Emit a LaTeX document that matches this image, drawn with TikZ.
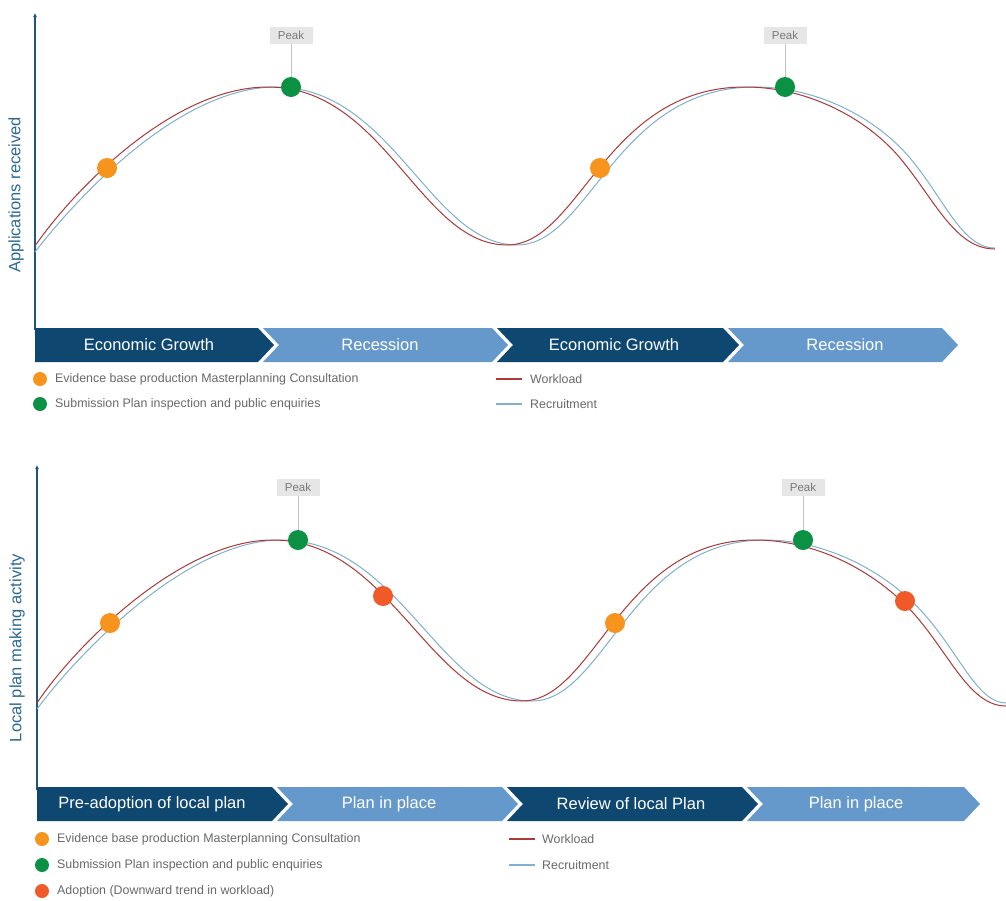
\documentclass[tikz,border=0pt]{standalone}
\usepackage{fontspec}
\setmainfont{Liberation Sans}
\usetikzlibrary{arrows.meta}
\definecolor{navy}{RGB}{14,71,112}
\definecolor{steel}{RGB}{102,153,203}
\definecolor{axisblue}{RGB}{30,88,118}
\definecolor{labelblue}{RGB}{44,106,150}
\definecolor{workred}{RGB}{172,56,56}
\definecolor{recblue}{RGB}{128,176,205}
\definecolor{dotorange}{RGB}{247,148,30}
\definecolor{dotgreen}{RGB}{10,145,68}
\definecolor{dotred}{RGB}{240,90,40}
\definecolor{peakgrey}{RGB}{230,230,230}
\definecolor{peaktext}{RGB}{120,120,120}
\definecolor{legendgrey}{RGB}{105,105,105}

\begin{document}
\begin{tikzpicture}[x=1pt,y=-1pt,
    axis/.style={draw=axisblue,line width=1.4pt,-{Latex[length=4pt,width=4pt]}},
    ylab/.style={rotate=90,text=labelblue,font=\fontsize{16.5}{18}\selectfont},
    workload/.style={draw=workred,line width=1pt},
    recruit/.style={draw=recblue,line width=1pt},
    keyline/.style={line width=1.4pt},
    dot/.style={circle,inner sep=0pt,minimum size=20pt},
    keydot/.style={circle,inner sep=0pt,minimum size=14pt},
    peakbox/.style={fill=peakgrey,text=peaktext,font=\fontsize{11.5}{12}\selectfont,minimum width=43pt,minimum height=17pt,inner sep=0pt},
    peakline/.style={draw=peakgrey!85!black,line width=0.8pt},
    phase/.style={text=white,font=\fontsize{16.5}{18}\selectfont},
    key/.style={anchor=west,inner sep=0pt,text=legendgrey,font=\fontsize{12.4}{14}\selectfont}]
    \fill[white] (0,0) rectangle (1006,900);
    \useasboundingbox (0,0) rectangle (1006,900);

    % upper chart
    \coordinate (ax1b) at (35,330);
    \coordinate (ax1t) at (35,13);
    \draw[axis] (ax1b) -- (ax1t);
    \node[ylab] (yl1) at (16,195) {Applications received};
    \draw[recruit] (35,252) .. controls (75,200) and (178,87) .. (276,87)
        .. controls (393,87) and (430,245) .. (517,245)
        .. controls (590,245) and (615,87) .. (755,87)
        .. controls (820,87) and (878,120) .. (910,158)
        .. controls (945,200) and (962,248) .. (995,248);
    \draw[workload] (35,246) .. controls (70,195) and (170,87) .. (268,87)
        .. controls (385,87) and (420,245) .. (507,245)
        .. controls (580,245) and (605,87) .. (745,87)
        .. controls (810,87) and (868,120) .. (900,158)
        .. controls (935,200) and (955,249) .. (995,249);
    \node[dot,fill=dotorange] (o1) at (107,168) {};
    \node[dot,fill=dotgreen] (g1) at (291,87) {};
    \node[dot,fill=dotorange] (o2) at (600,168) {};
    \node[dot,fill=dotgreen] (g2) at (785,87) {};
    \node[peakbox] (pk1) at (291,35) {Peak};
    \node[peakbox] (pk2) at (785,35) {Peak};
    \draw[peakline] (pk1) -- (g1);
    \draw[peakline] (pk2) -- (g2);

    \fill[navy] (35,328) -- (258,328) -- (274,345) -- (258,362) -- (35,362) -- cycle;
    \fill[steel] (263,328) -- (492,328) -- (508,345) -- (492,362) -- (263,362) -- (279,345) -- cycle;
    \fill[navy] (497,328) -- (723,328) -- (739,345) -- (723,362) -- (497,362) -- (513,345) -- cycle;
    \fill[steel] (728,328) -- (942,328) -- (958,345) -- (942,362) -- (728,362) -- (744,345) -- cycle;
    \node[phase] (ph1) at (149,345) {Economic Growth};
    \node[phase] (ph2) at (380,345) {Recession};
    \node[phase] (ph3) at (614,345) {Economic Growth};
    \node[phase] (ph4) at (845,345) {Recession};

    \node[keydot,fill=dotorange] (k1) at (40,379) {};
    \node[key] (k1t) at (55,379) {Evidence base production Masterplanning Consultation};
    \node[keydot,fill=dotgreen] (k2) at (40,404) {};
    \node[key] (k2t) at (55,404) {Submission Plan inspection and public enquiries};
    \coordinate (w1a) at (496,379);
    \coordinate (w1b) at (522,379);
    \draw[workload,keyline] (w1a) -- (w1b);
    \node[key] (w1t) at (530,379) {Workload};
    \coordinate (r1a) at (496,404);
    \coordinate (r1b) at (522,404);
    \draw[recruit,keyline] (r1a) -- (r1b);
    \node[key] (r1t) at (530,404) {Recruitment};

    % lower chart
    \coordinate (ax2b) at (37,790);
    \coordinate (ax2t) at (37,465);
    \draw[axis] (ax2b) -- (ax2t);
    \node[ylab] (yl2) at (17,648) {Local plan making activity};
    \draw[recruit] (37,709) .. controls (77,655) and (186,540) .. (281,540)
        .. controls (400,540) and (440,701) .. (532,701)
        .. controls (605,701) and (630,540) .. (765,540)
        .. controls (830,540) and (890,575) .. (925,615)
        .. controls (960,655) and (978,703) .. (1006,703);
    \draw[workload] (37,703) .. controls (72,650) and (178,540) .. (273,540)
        .. controls (390,540) and (430,701) .. (522,701)
        .. controls (595,701) and (620,540) .. (755,540)
        .. controls (820,540) and (880,575) .. (915,615)
        .. controls (950,655) and (970,706) .. (1006,706);
    \node[dot,fill=dotorange] (o3) at (110,623) {};
    \node[dot,fill=dotgreen] (g3) at (298,540) {};
    \node[dot,fill=dotred] (a1) at (383,596) {};
    \node[dot,fill=dotorange] (o4) at (615,623) {};
    \node[dot,fill=dotgreen] (g4) at (803,540) {};
    \node[dot,fill=dotred] (a2) at (905,601) {};
    \node[peakbox] (pk3) at (298,487) {Peak};
    \node[peakbox] (pk4) at (803,487) {Peak};
    \draw[peakline] (pk3) -- (g3);
    \draw[peakline] (pk4) -- (g4);

    \fill[navy] (37,787) -- (272,787) -- (288,804) -- (272,821) -- (37,821) -- cycle;
    \fill[steel] (277,787) -- (502,787) -- (518,804) -- (502,821) -- (277,821) -- (293,804) -- cycle;
    \fill[navy] (507,787) -- (742,787) -- (758,804) -- (742,821) -- (507,821) -- (523,804) -- cycle;
    \fill[steel] (747,787) -- (964,787) -- (980,804) -- (964,821) -- (747,821) -- (763,804) -- cycle;
    \node[phase] (ph5) at (152,804) {Pre-adoption of local plan};
    \node[phase] (ph6) at (389,804) {Plan in place};
    \node[phase] (ph7) at (631,804) {Review of local Plan};
    \node[phase] (ph8) at (856,804) {Plan in place};

    \node[keydot,fill=dotorange] (k3) at (42,839) {};
    \node[key] (k3t) at (57,839) {Evidence base production Masterplanning Consultation};
    \node[keydot,fill=dotgreen] (k4) at (42,865) {};
    \node[key] (k4t) at (57,865) {Submission Plan inspection and public enquiries};
    \node[keydot,fill=dotred] (k5) at (42,891) {};
    \node[key] (k5t) at (57,891) {Adoption (Downward trend in workload)};
    \coordinate (w2a) at (509,839);
    \coordinate (w2b) at (535,839);
    \draw[workload,keyline] (w2a) -- (w2b);
    \node[key] (w2t) at (542,839) {Workload};
    \coordinate (r2a) at (509,865);
    \coordinate (r2b) at (535,865);
    \draw[recruit,keyline] (r2a) -- (r2b);
    \node[key] (r2t) at (542,865) {Recruitment};
\end{tikzpicture}
\end{document}
